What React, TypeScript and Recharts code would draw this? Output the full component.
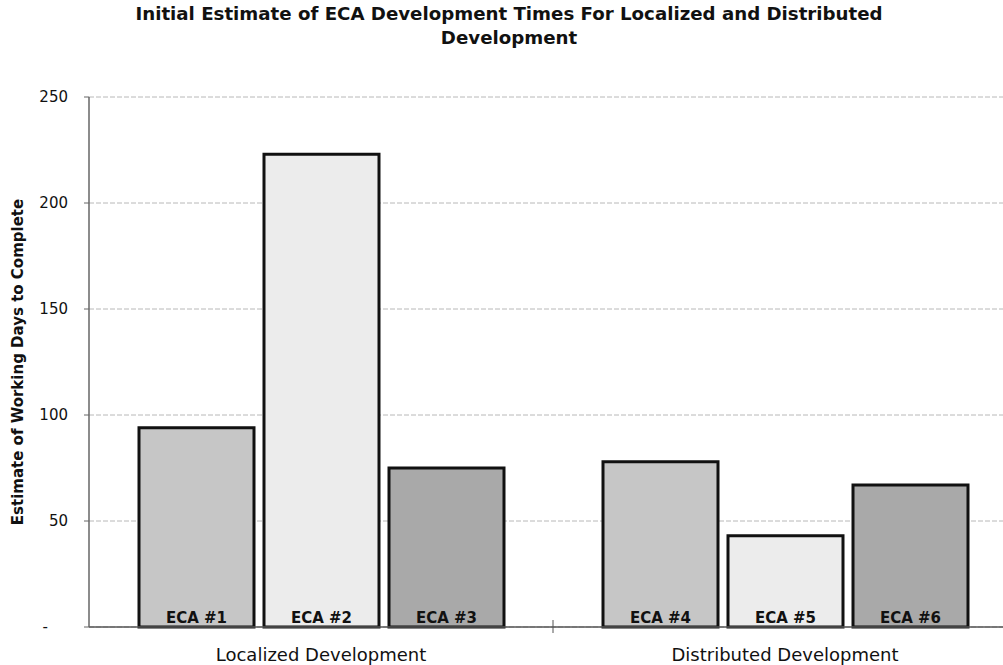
import { BarChart, Bar, XAxis, YAxis, CartesianGrid, LabelList, usePlotArea } from 'recharts';

// ---------------------------------------------------------------------------
// Data
// ---------------------------------------------------------------------------

const categories = ['Localized Development', 'Distributed Development'];
// first, second and third bar within each group
const firstBar = [94, 78];
const secondBar = [223, 43];
const thirdBar = [75, 67];
const firstNames = ['ECA #1', 'ECA #4'];
const secondNames = ['ECA #2', 'ECA #5'];
const thirdNames = ['ECA #3', 'ECA #6'];
const yTicks = [0, 50, 100, 150, 200, 250];

const chartData = categories.map((c, i) => ({
  category: c,
  a: firstBar[i],
  b: secondBar[i],
  c: thirdBar[i],
  na: firstNames[i],
  nb: secondNames[i],
  nc: thirdNames[i],
}));

const FONT = '"DejaVu Sans", Verdana, sans-serif';

const labelStyle = { fontFamily: FONT, fontSize: 15, fontWeight: 700, fill: '#111' };

// Excel-style accounting format: zero shows as a dash, set further left
function YTick({ x, y, payload }: any) {
  const zero = payload.value === 0;
  return (
    <text
      x={zero ? x - 20 : x}
      y={y}
      dy="0.355em"
      textAnchor="end"
      fontFamily={FONT}
      fontSize={15}
      fill="#111"
    >
      {zero ? '-' : payload.value}
    </text>
  );
}

// small tick mark crossing the x axis on the boundary between the two groups
function GroupSeparator() {
  const plot = usePlotArea();
  if (!plot) return null;
  const x = plot.x + plot.width / 2;
  const y = plot.y + plot.height;
  return <line x1={x} x2={x} y1={y - 7} y2={y + 6} stroke="#555" strokeWidth={1} />;
}

export default function App() {
  return (
    <div style={{ position: 'absolute', left: 0, top: 0, width: 1003, height: 665, overflow: 'hidden', background: '#fff' }}>
      <div
        style={{
          position: 'absolute',
          left: 0,
          top: 2,
          width: 1018,
          textAlign: 'center',
          fontFamily: FONT,
          fontWeight: 700,
          fontSize: 18.2,
          lineHeight: '24px',
          color: '#111',
        }}
      >
        Initial Estimate of ECA Development Times For Localized and Distributed
        <br />
        Development
      </div>
      <div
        style={{
          position: 'absolute',
          left: 18,
          top: 362,
          transform: 'translate(-50%, -50%) rotate(-90deg)',
          whiteSpace: 'nowrap',
          fontFamily: FONT,
          fontWeight: 700,
          fontSize: 15,
          color: '#111',
        }}
      >
        Estimate of Working Days to Complete
      </div>
      <BarChart
        width={1020}
        height={665}
        data={chartData}
        margin={{ top: 97, right: 3, left: 29, bottom: 8 }}
        barCategoryGap={50}
        barGap={10}
        style={{ position: 'absolute', left: 0, top: 0 }}
      >
        <CartesianGrid vertical={false} stroke="#b8b8b8" strokeDasharray="5 2" />
        <XAxis
          dataKey="category"
          axisLine={{ stroke: '#555', strokeWidth: 1.5 }}
          tickLine={false}
          height={30}
          tick={{ fontFamily: FONT, fontSize: 18, fill: '#111' }}
          tickMargin={15}
        />
        <YAxis
          domain={[0, 250]}
          ticks={yTicks}
          width={60}
          axisLine={{ stroke: '#666', strokeWidth: 1.5 }}
          tickLine={{ stroke: '#666' }}
          tickSize={5}
          tickMargin={16}
          tick={<YTick />}
        />
        <Bar dataKey="a" fill="#c6c6c6" stroke="#111" strokeWidth={3} isAnimationActive={false}>
          <LabelList dataKey="na" position="insideBottom" offset={4} style={labelStyle} />
        </Bar>
        <Bar dataKey="b" fill="#ececec" stroke="#111" strokeWidth={3} isAnimationActive={false}>
          <LabelList dataKey="nb" position="insideBottom" offset={4} style={labelStyle} />
        </Bar>
        <Bar dataKey="c" fill="#a9a9a9" stroke="#111" strokeWidth={3} isAnimationActive={false}>
          <LabelList dataKey="nc" position="insideBottom" offset={4} style={labelStyle} />
        </Bar>
        <GroupSeparator />
      </BarChart>
    </div>
  );
}
